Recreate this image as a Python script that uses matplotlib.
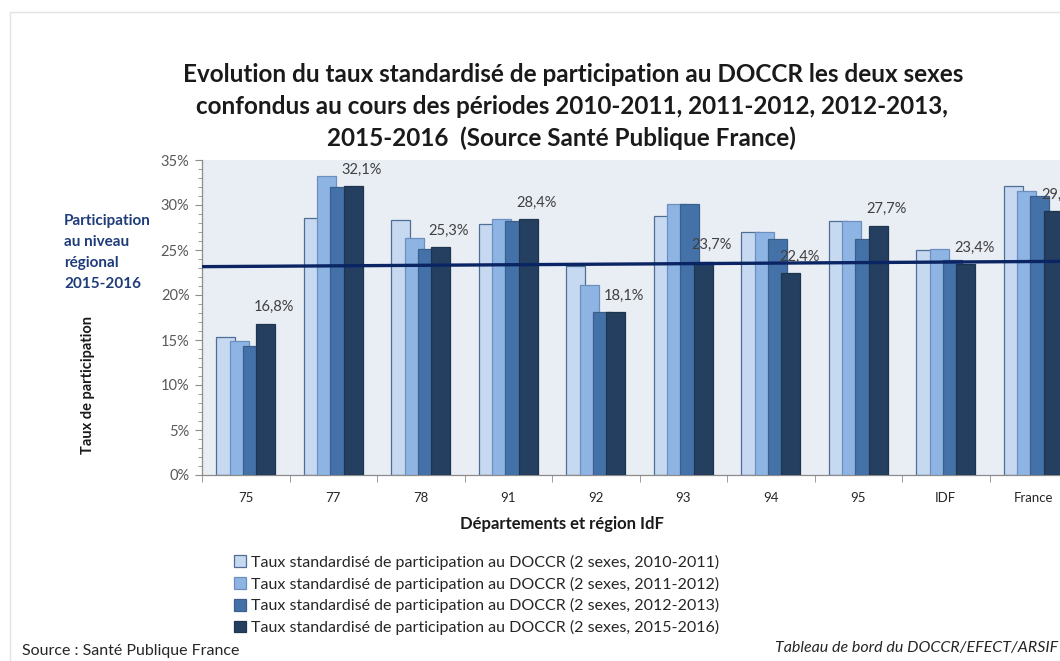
import matplotlib
matplotlib.use("Agg")
import matplotlib.pyplot as plt
import numpy as np
from matplotlib.patches import Rectangle
from matplotlib.ticker import FuncFormatter, MultipleLocator

plt.rcParams['font.family'] = ['Lato', 'DejaVu Sans']

categories = ["75", "77", "78", "91", "92", "93", "94", "95", "IDF", "France"]
series_names = [
    "Taux standardisé de participation au DOCCR (2 sexes, 2010-2011)",
    "Taux standardisé de participation au DOCCR (2 sexes, 2011-2012)",
    "Taux standardisé de participation au DOCCR (2 sexes, 2012-2013)",
    "Taux standardisé de participation au DOCCR (2 sexes, 2015-2016)",
]
p2010 = [15.3, 28.6, 28.3, 27.9, 23.2, 28.8, 27.0, 28.2, 25.0, 32.1]
p2011 = [14.9, 33.2, 26.3, 28.4, 21.1, 30.1, 27.0, 28.2, 25.1, 31.6]
p2012 = [14.3, 32.0, 25.1, 28.2, 18.1, 30.1, 26.2, 26.2, 23.9, 31.0]
p2015 = [16.8, 32.1, 25.3, 28.4, 18.1, 23.7, 22.4, 27.7, 23.4, 29.3]
regional_start = 23.15
regional_end = 23.75

series = [p2010, p2011, p2012, p2015]
colors = ["#C6D9F1", "#8DB4E2", "#4472A8", "#243F60"]
edgecolors = ["#4F6E96", "#6D8FBF", "#3A5F8C", "#1E3550"]

fig = plt.figure(figsize=(10.6, 6.61), dpi=100)
W, H = 1060, 661

# outer chart frame
fig.patches.append(Rectangle((10 / W, -0.05), 1.2, 1 - 12 / H + 0.05, transform=fig.transFigure,
                             fill=False, edgecolor="#E3E3E3", linewidth=1.0))

ax = fig.add_axes([202 / W, 1 - 475 / H, 875 / W, 315 / H])
ax.set_facecolor("#E9EDF4")

x = np.arange(len(categories))
step = 0.152
width = 0.218
for i, (vals, c, ec, name) in enumerate(zip(series, colors, edgecolors, series_names)):
    off = (i - 1.5) * step
    ax.bar(x + off, [v / 100 for v in vals], width=width, color=c, edgecolor=ec,
           linewidth=0.9, label=name, zorder=2 + i)

# value labels on the last series
for xi, v in zip(x, p2015):
    ax.annotate(f"{v:.1f}%".replace(".", ","), (xi + 1.5 * step, v / 100),
                xytext=(6, 12), textcoords="offset points", ha="center", va="center",
                fontsize=10.5, color="#404040", zorder=10, annotation_clip=False)

# regional line
ax.plot([-0.5, 9.5], [regional_start / 100, regional_end / 100], color="#0B2463",
        linewidth=2.4, zorder=9, clip_on=False, solid_capstyle="butt")

ax.set_xlim(-0.5, 9.5)
ax.set_ylim(0, 0.35)
ax.yaxis.set_major_locator(MultipleLocator(0.05))
ax.yaxis.set_minor_locator(MultipleLocator(0.01))
ax.yaxis.set_major_formatter(FuncFormatter(lambda v, p: f"{v * 100:.0f}%"))
ax.tick_params(axis="y", which="major", length=5, color="#8C8C8C", labelsize=10.5,
               labelcolor="#595959", pad=4)
ax.tick_params(axis="y", which="minor", length=3, color="#8C8C8C")

ax.set_xticks(x)
ax.set_xticklabels(categories)
ax.set_xticks(np.arange(-0.5, 10, 1), minor=True)
ax.tick_params(axis="x", which="major", length=0, labelsize=9.5, labelcolor="#262626", pad=12)
ax.tick_params(axis="x", which="minor", length=5, color="#8C8C8C")

for s in ["top", "right"]:
    ax.spines[s].set_visible(False)
for s in ["left", "bottom"]:
    ax.spines[s].set_color("#8C8C8C")
    ax.spines[s].set_linewidth(0.9)

# title
title_lines = [
    "Evolution du taux standardisé de participation au DOCCR les deux sexes",
    "confondus au cours des périodes 2010-2011, 2011-2012, 2012-2013,",
    "2015-2016  (Source Santé Publique France)",
]
for j, (line, cx) in enumerate(zip(title_lines, [573, 572, 561])):
    fig.text(cx / W, 1 - (75 + 31.5 * j) / H, line, ha="center", va="center",
             fontsize=17.5, fontweight="bold", color="#1A1A1A")

fig.text(562 / W, 1 - 524 / H, "Départements et région IdF", ha="center", va="center",
         fontsize=12, fontweight="bold", color="#1A1A1A")
fig.text(88 / W, 1 - 385 / H, "Taux de participation", ha="center", va="center",
         rotation=90, fontsize=10.5, fontweight="bold", color="#1A1A1A")
for j, line in enumerate(["Participation", "au niveau", "régional", "2015-2016"]):
    fig.text(64 / W, 1 - (221 + 21 * j) / H, line, ha="left", va="center",
             fontsize=11, fontweight="bold", color="#1F3C7A")

leg = fig.legend(loc="center left", bbox_to_anchor=(226 / W, 1 - 595 / H), frameon=False,
                 fontsize=11.5, handlelength=0.75, handleheight=0.75, handletextpad=0.3,
                 labelspacing=0.42, borderpad=0, labelcolor="#262626")

fig.text(22 / W, 1 - 651 / H, "Source : Santé Publique France", ha="left", va="center",
         fontsize=11.5, color="#262626")
fig.text(775 / W, 1 - 648 / H, "Tableau de bord du DOCCR/EFECT/ARSIF", ha="left",
         va="center", fontsize=11.5, style="italic", color="#262626")

fig.savefig("out.png", dpi=100)
